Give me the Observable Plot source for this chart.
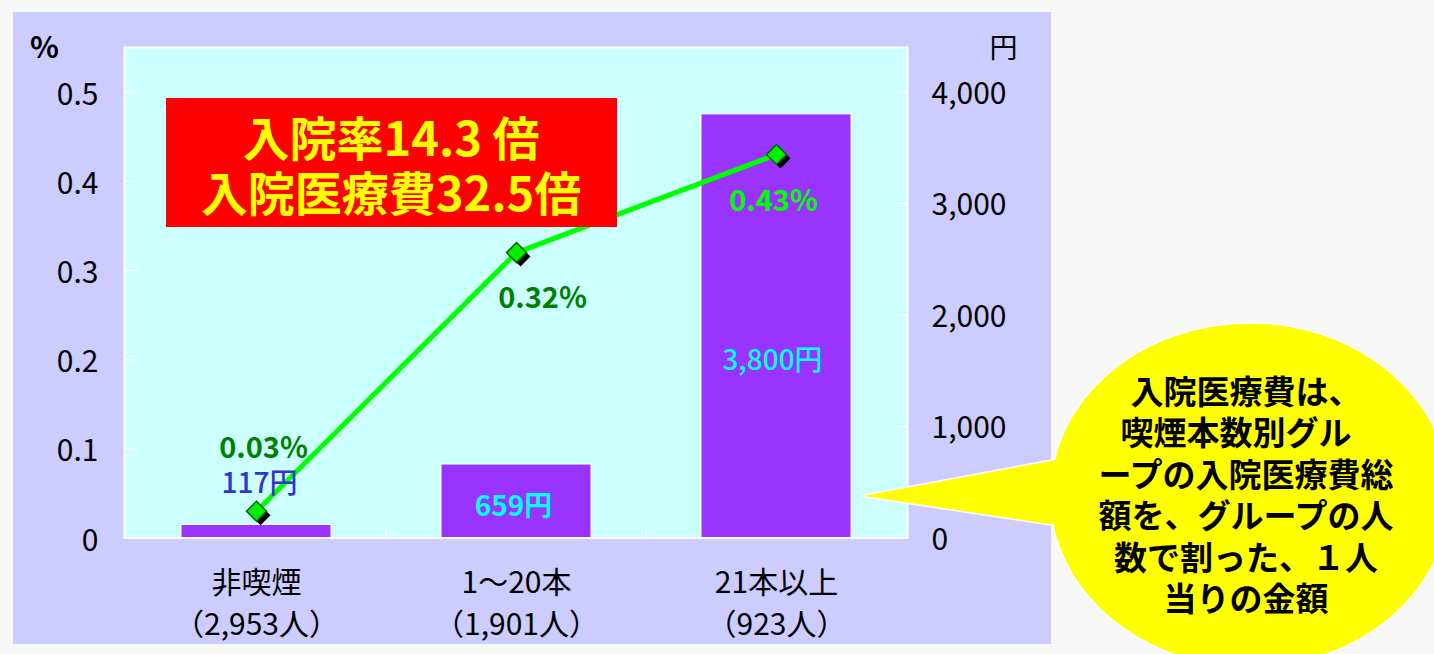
<!DOCTYPE html>
<html><head><meta charset="utf-8">
<script src="https://cdn.jsdelivr.net/npm/d3@7"></script>
<script src="https://cdn.jsdelivr.net/npm/@observablehq/plot@0.6"></script>
<style>
html,body{margin:0;padding:0;background:#f8f8f8;}
#wrap{position:relative;width:1434px;height:654px;overflow:hidden;font-family:'Noto Sans CJK JP',sans-serif;}
#chart{position:absolute;left:13px;top:12px;line-height:0;}
#overlay{position:absolute;left:0;top:0;}
</style></head><body>
<div id="wrap"><div id="chart"></div><svg id="overlay" width="1434" height="654"></svg></div>
<script>
// ---- data ----
const categories = ["非喫煙", "1～20本", "21本以上"];
const groupSizes = ["（2,953人）", "（1,901人）", "（923人）"];
const admissionRate = [0.03, 0.32, 0.43];      // 入院率 (%)
const costPerPerson = [117, 659, 3800];         // 1人当り入院医療費 (円)
const rateLabels = ["0.03%", "0.32%", "0.43%"];
const costLabels = ["117円", "659円", "3,800円"];
const leftTicks = [0, 0.1, 0.2, 0.3, 0.4, 0.5];
const rightTicks = [0, 1000, 2000, 3000, 4000];
const leftUnit = "%";
const rightUnit = "円";
const headline = ["入院率14.3 倍", "入院医療費32.5倍"];
const noteLines = ["入院医療費は、", "喫煙本数別グル", "ープの入院医療費総", "額を、グループの人", "数で割った、１人", "当りの金額"];

// right axis (0–4,400 円) shares the left axis frame (0–0.55 %)
const YEN_PER_PCT = 8000;
const data = categories.map((c, i) => ({
  cat: c, rate: admissionRate[i], cost: costPerPerson[i],
  costY: costPerPerson[i] / YEN_PER_PCT,
  rateLabel: rateLabels[i], costLabel: costLabels[i]
}));

// ---- label styles (offsets from their data anchors) ----
const rateStyle = [
  {fill: "#008000", dx: 7, dy: -63},
  {fill: "#008000", dx: 26, dy: 46},
  {fill: "#00ff00", dx: -3, dy: 47}
];
const costStyle = [
  {fill: "#3333cc", dx: 3, dy: -41, fontWeight: 500},
  {fill: "#00ffff", dx: -3, dy: 42, fontWeight: "bold"},
  {fill: "#00ffff", dx: -4, dy: 247, fontWeight: 500}
];

const FONT = "'Noto Sans CJK JP', 'Noto Sans', sans-serif";
const frameW = 1038 - 111 - 144;
const frameH = 632 - 35 - 106.5;

const labelMarks = [];
data.forEach((d, i) => {
  labelMarks.push(Plot.text([d], {x: "cat", y: "rate", text: "rateLabel", fontSize: 29, fontWeight: "bold",
    fill: rateStyle[i].fill, dx: rateStyle[i].dx, dy: rateStyle[i].dy, lineAnchor: "middle"}));
  labelMarks.push(Plot.text([d], {x: "cat", y: "costY", text: "costLabel", fontSize: 28, fontWeight: costStyle[i].fontWeight,
    fill: costStyle[i].fill, dx: costStyle[i].dx, dy: costStyle[i].dy, lineAnchor: "middle"}));
});

const plot = Plot.plot({
  width: 1038, height: 632,
  marginLeft: 111, marginRight: 144, marginTop: 35, marginBottom: 106.5,
  style: {background: "#ccccff", fontFamily: FONT, overflow: "visible", color: "black"},
  x: {type: "band", domain: categories, paddingInner: 0.425, paddingOuter: 0.2126, align: 0.5},
  y: {domain: [0, 0.55]},
  marks: [
    Plot.frame({fill: "#ccffff", stroke: "white", strokeWidth: 2}),
    Plot.tickY(leftTicks, {y: d => d, stroke: "white", strokeWidth: 1.5, insetRight: frameW - 11}),
    Plot.tickY(rightTicks.map(v => v / YEN_PER_PCT), {y: d => d, stroke: "white", strokeWidth: 1.5, insetLeft: frameW - 11}),
    Plot.tickX(categories.slice(1), {x: d => d, dx: -frameW / 6, stroke: "white", strokeWidth: 1.5, insetTop: frameH - 10}),
    Plot.axisY(leftTicks, {anchor: "left", tickSize: 0, tickPadding: 26, dy: 3,
      tickFormat: d => d === 0 ? "0" : d.toFixed(1), fontSize: 30, label: null}),
    Plot.axisY(rightTicks.map(v => v / YEN_PER_PCT), {anchor: "right", tickSize: 0, tickPadding: 24, dy: 2,
      tickFormat: d => d3.format(",")(Math.round(d * YEN_PER_PCT)), fontSize: 30, label: null}),
    Plot.axisX({anchor: "bottom", tickSize: 0, tickPadding: 25, fontSize: 30, lineHeight: 1.4, label: null,
      tickFormat: d => d + "\n" + groupSizes[categories.indexOf(d)]}),
    Plot.barY(data, {x: "cat", y: "costY", fill: "#9933ff", stroke: "white", strokeWidth: 1}),
    Plot.line(data, {x: "cat", y: "rate", stroke: "#00ff00", strokeWidth: 5}),
    Plot.dot(data, {x: "cat", y: "rate", symbol: "diamond2", r: 9, fill: "black", dx: 4, dy: 4}),
    Plot.dot(data, {x: "cat", y: "rate", symbol: "diamond2", r: 9, fill: "#00ee00", stroke: "#006600", strokeWidth: 1.5}),
    ...labelMarks,
    Plot.text([leftUnit], {frameAnchor: "top-left", textAnchor: "middle", lineAnchor: "middle", dx: -80, dy: 1, fontSize: 30, fontWeight: "bold"}),
    Plot.text([rightUnit], {frameAnchor: "top-right", textAnchor: "middle", lineAnchor: "middle", dx: 96, dy: 2, fontSize: 28})
  ]
});
document.getElementById("chart").appendChild(plot);

// ---- annotations: headline box and callout ----
const ov = d3.select("#overlay").style("font-family", FONT);
ov.append("rect").attr("x", 166).attr("y", 98).attr("width", 451).attr("height", 129).attr("fill", "#ff0000");
ov.selectAll("text.head").data(headline).join("text").attr("class", "head")
  .attr("x", 391).attr("y", (d, i) => 135 + i * 55)
  .attr("text-anchor", "middle").attr("dominant-baseline", "central")
  .attr("font-size", 47).attr("font-weight", "bold").attr("fill", "#ffff00").text(d => d);

const cx = 1250, cy = 495, rx = 200, ry = 172;
ov.append("ellipse").attr("cx", cx).attr("cy", cy).attr("rx", rx).attr("ry", ry)
  .attr("fill", "#ffff00").attr("stroke", "white").attr("stroke-width", 1.5);
ov.append("path").attr("d", "M1085,453.7 L859,496 L1085,530.2 Z")
  .attr("fill", "#ffff00").attr("stroke", "white").attr("stroke-width", 1.5).attr("stroke-linejoin", "miter");
ov.append("ellipse").attr("cx", cx).attr("cy", cy).attr("rx", rx - 1).attr("ry", ry - 1).attr("fill", "#ffff00");
ov.selectAll("text.note").data(noteLines).join("text").attr("class", "note")
  .attr("x", (d, i) => i === 1 ? 1236 : 1246).attr("y", (d, i) => 390 + i * 41.4)
  .attr("text-anchor", "middle").attr("dominant-baseline", "central")
  .attr("font-size", 33).attr("font-weight", "bold").attr("fill", "black").text(d => d);
</script>
</body></html>
